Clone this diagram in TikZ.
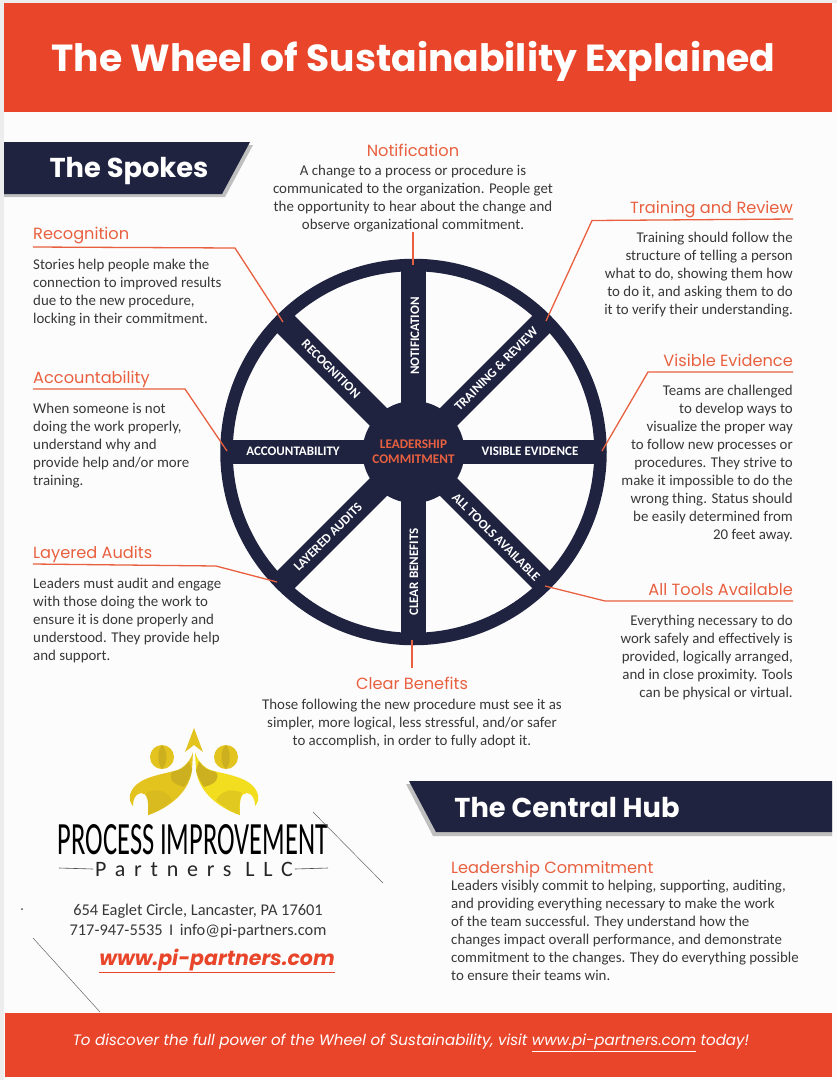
\documentclass[tikz,border=0pt]{standalone}
\usepackage{graphicx}
\usepackage{fontspec}
\setmainfont{Carlito}
\newfontfamily\headfont{Poppins}
\newfontfamily\logofont[LetterSpace=40]{Carlito}
\usetikzlibrary{calc}
\definecolor{bandred}{HTML}{E8452A}
\definecolor{leadred}{HTML}{E8603F}
\definecolor{wheelnavy}{HTML}{1F2340}
\definecolor{bodygray}{HTML}{383838}
\definecolor{goldbase}{HTML}{E3C31E}
\definecolor{golddark}{HTML}{CDB020}
\definecolor{goldlight}{HTML}{F2DE1E}
\tikzset{
  head/.style={inner sep=0pt, anchor=base, text=leadred, font=\headfont\fontsize{16.2}{18}\selectfont},
  bodyleft/.style={inner sep=0pt, anchor=north west, align=left, text=bodygray, font=\fontsize{14.9}{18}\selectfont},
  bodyright/.style={inner sep=0pt, anchor=north east, align=right, text=bodygray, font=\fontsize{14.9}{18}\selectfont},
  bodymid/.style={inner sep=0pt, anchor=north, align=center, text=bodygray, font=\fontsize{14.9}{18}\selectfont},
  leader/.style={draw=leadred, line width=1.3pt},
  spoke/.style={draw=wheelnavy, line width=24.6pt},
  spokelabel/.style={inner sep=0pt, text=white, font=\bfseries\fontsize{13}{15}\selectfont},
  banner/.style={inner sep=0pt, text=white, font=\headfont\bfseries\fontsize{27.3}{30}\selectfont},
  scratch/.style={draw=black!60, line width=0.5pt}
}
\begin{document}
\begin{tikzpicture}[x=1pt, y=-1pt]
\useasboundingbox (0,0) rectangle (837,1080);
\fill[black!7] (0,0) rectangle (837,1080);
\fill[white!99!black] (4,3) rectangle (837,1080);
\fill[bandred] (4,3) rectangle (832,112);
\fill[bandred] (5,1013) rectangle (832,1077);
\node[banner, font=\headfont\bfseries\fontsize{37.7}{40}\selectfont] (title) at (413.5,61) {The Wheel of Sustainability Explained};
\node[inner sep=0pt, text=white, font=\headfont\itshape\fontsize{15.1}{18}\selectfont] (visit) at (411,1043) {To discover the full power of the Wheel of Sustainability, visit \underline{www.pi-partners.com} today!};

\fill[black!25] (4,145) -- (253,145) -- (225,197) -- (4,197) -- cycle;
\fill[wheelnavy] (4,142) -- (250,142) -- (222,194) -- (4,194) -- cycle;
\node[banner] (spokes) at (129,171) {The Spokes};
\fill[black!25] (406,784) -- (832,784) -- (832,836) -- (433,836) -- cycle;
\fill[wheelnavy] (409,781) -- (832,781) -- (832,832) -- (436,832) -- cycle;
\node[banner] (centralhub) at (567,807) {The Central Hub};

\foreach \a in {0,45,...,315}
  \draw[spoke] (413.5,452) -- ++(\a:187);
\draw[draw=wheelnavy, line width=12.5pt] (413.5,452) circle (187);
\node[circle, fill=wheelnavy, minimum size=102pt, inner sep=0pt, align=center, text=leadred, font=\bfseries\fontsize{13.2}{15}\selectfont] (hub) at (413.5,452) {LEADERSHIP\\COMMITMENT};

\node[spokelabel, rotate=90] (lnotification) at (415,336) {NOTIFICATION};
\node[spokelabel, rotate=45] (ltraining) at (496,369) {TRAINING \& REVIEW};
\node[spokelabel] (lvisible) at (530,451) {VISIBLE EVIDENCE};
\node[spokelabel, rotate=-45] (ltools) at (496,537) {ALL TOOLS AVAILABLE};
\node[spokelabel, rotate=90] (lbenefits) at (414,572) {CLEAR BENEFITS};
\node[spokelabel, rotate=45] (laudits) at (328,537) {LAYERED AUDITS};
\node[spokelabel] (laccount) at (293,451) {ACCOUNTABILITY};
\node[spokelabel, rotate=-45] (lrecognition) at (331,369) {RECOGNITION};

\node[head] (notification) at (413,156) {Notification};
\node[bodymid] (tnotification) at (413,165) {A change to a process or procedure is\\communicated to the organization. People get\\the opportunity to hear about the change and\\observe organizational commitment.};
\node[head, anchor=base east] (training) at (793,213) {Training and Review};
\node[bodyright] (ttraining) at (793,232) {Training should follow the\\structure of telling a person\\what to do, showing them how\\to do it, and asking them to do\\it to verify their understanding.};
\node[head, anchor=base east] (visible) at (793,366) {Visible Evidence};
\node[bodyright] (tvisible) at (793,385) {Teams are challenged\\to develop ways to\\visualize the proper way\\to follow new processes or\\procedures. They strive to\\make it impossible to do the\\wrong thing. Status should\\be easily determined from\\20 feet away.};
\node[head, anchor=base east] (tools) at (793,595) {All Tools Available};
\node[bodyright] (ttools) at (793,615) {Everything necessary to do\\work safely and effectively is\\provided, logically arranged,\\and in close proximity. Tools\\can be physical or virtual.};
\node[head] (benefits) at (412,689) {Clear Benefits};
\node[bodymid] (tbenefits) at (412,699) {Those following the new procedure must see it as\\simpler, more logical, less stressful, and/or safer\\to accomplish, in order to fully adopt it.};
\node[head, anchor=base west] (audits) at (33,558) {Layered Audits};
\node[bodyleft] (taudits) at (33,578) {Leaders must audit and engage\\with those doing the work to\\ensure it is done properly and\\understood. They provide help\\and support.};
\node[head, anchor=base west] (account) at (33,383) {Accountability};
\node[bodyleft] (taccount) at (33,403) {When someone is not\\doing the work properly,\\understand why and\\provide help and/or more\\training.};
\node[head, anchor=base west] (recognition) at (33,239) {Recognition};
\node[bodyleft] (trecognition) at (33,259) {Stories help people make the\\connection to improved results\\due to the new procedure,\\locking in their commitment.};
\node[head, anchor=base west] (leadership) at (451,873) {Leadership Commitment};
\node[bodyleft] (tleadership) at (451,880) {Leaders visibly commit to helping, supporting, auditing,\\and providing everything necessary to make the work\\of the team successful. They understand how the\\changes impact overall performance, and demonstrate\\commitment to the changes. They do everything possible\\to ensure their teams win.};

\coordinate (enotification) at (413,265);
\coordinate (etraining) at (546,321);
\coordinate (evisible) at (602,451);
\coordinate (etools) at (545,586);
\coordinate (ebenefits) at (412,640);
\coordinate (eaudits) at (277,582);
\coordinate (eaccount) at (227,451);
\coordinate (erecognition) at (283,322);
\draw[leader] (tnotification.south -| enotification) -- (enotification);
\draw[leader] (793,219) coordinate (straining) -- (592,220.5) -- (etraining);
\draw[leader] (793,372) coordinate (svisible) -- (648,372) -- (evisible);
\draw[leader] (793,601) coordinate (stools) -- (605,601) -- (etools);
\draw[leader] (ebenefits) -- (412,668) coordinate (sbenefits);
\draw[leader] (33,564) coordinate (saudits) -- (216,566) -- (eaudits);
\draw[leader] (33,389) coordinate (saccount) -- (185,389) -- (eaccount);
\draw[leader] (33,247) coordinate (srecognition) -- (235,248) -- (erecognition);

\foreach \s/\c in {-1/goldbase,1/goldlight} {
  \begin{scope}[shift={(194,0)}, xscale=\s]
  \fill[goldbase] (32,757) circle (12);
  \fill[golddark] (32,745) .. controls (26,750) and (26,764) .. (32,769) .. controls (37,764) and (37,750) .. (32,745) -- cycle;
  \fill[goldbase] (0,728) -- (9,752) -- (0,745) -- cycle;
  \fill[\c] (1,752) .. controls (3,760) and (10,769) .. (20,771) .. controls (35,775) and (60,778) .. (64,795) .. controls (65,800) and (63,804) .. (61,806) .. controls (61,798) and (58,794) .. (53,793) .. controls (47,793) and (45,800) .. (46,815) .. controls (30,810) and (5,795) .. (2,770) -- cycle;
  \fill[golddark] (5,761) .. controls (10,769) and (14,770) .. (22,772) .. controls (26,778) and (22,784) .. (10,787) .. controls (5,780) and (3,775) .. (2,770) -- cycle;
  \fill[golddark!45!\c] (46,815) .. controls (37,812) and (28,806) .. (22,800) .. controls (28,790) and (38,788) .. (48,793) .. controls (45,800) and (45,808) .. (46,815) -- cycle;
  \end{scope}
}
\node[inner sep=0pt] (processname) at (193,840) {\resizebox{270pt}{30pt}{\fontsize{30}{30}\selectfont PROCESS IMPROVEMENT}};
\node[inner sep=0pt, outer sep=2pt, text=black!85, font=\logofont\fontsize{22}{24}\selectfont] (partners) at (194,869) {Partners LLC};
\draw[black!70, line width=0.6pt] (59,868) -- (partners.west);
\draw[black!70, line width=0.6pt] (partners.east) -- (328,868);
\node[inner sep=0pt, align=center, text=bodygray, font=\fontsize{16.4}{20}\selectfont] (address) at (198,921) {654 Eaglet Circle, Lancaster, PA 17601\\717-947-5535\, I\, info@pi-partners.com};
\node[inner sep=0pt, text=bandred, font=\headfont\bfseries\itshape\fontsize{20.5}{22}\selectfont] (url) at (217,961) {\underline{www.pi-partners.com}};

\draw[scratch] (313,812) -- (383,883);
\draw[scratch] (33,938) -- (100,1012);
\fill[black!70] (22,909) circle (1);
\end{tikzpicture}
\end{document}
